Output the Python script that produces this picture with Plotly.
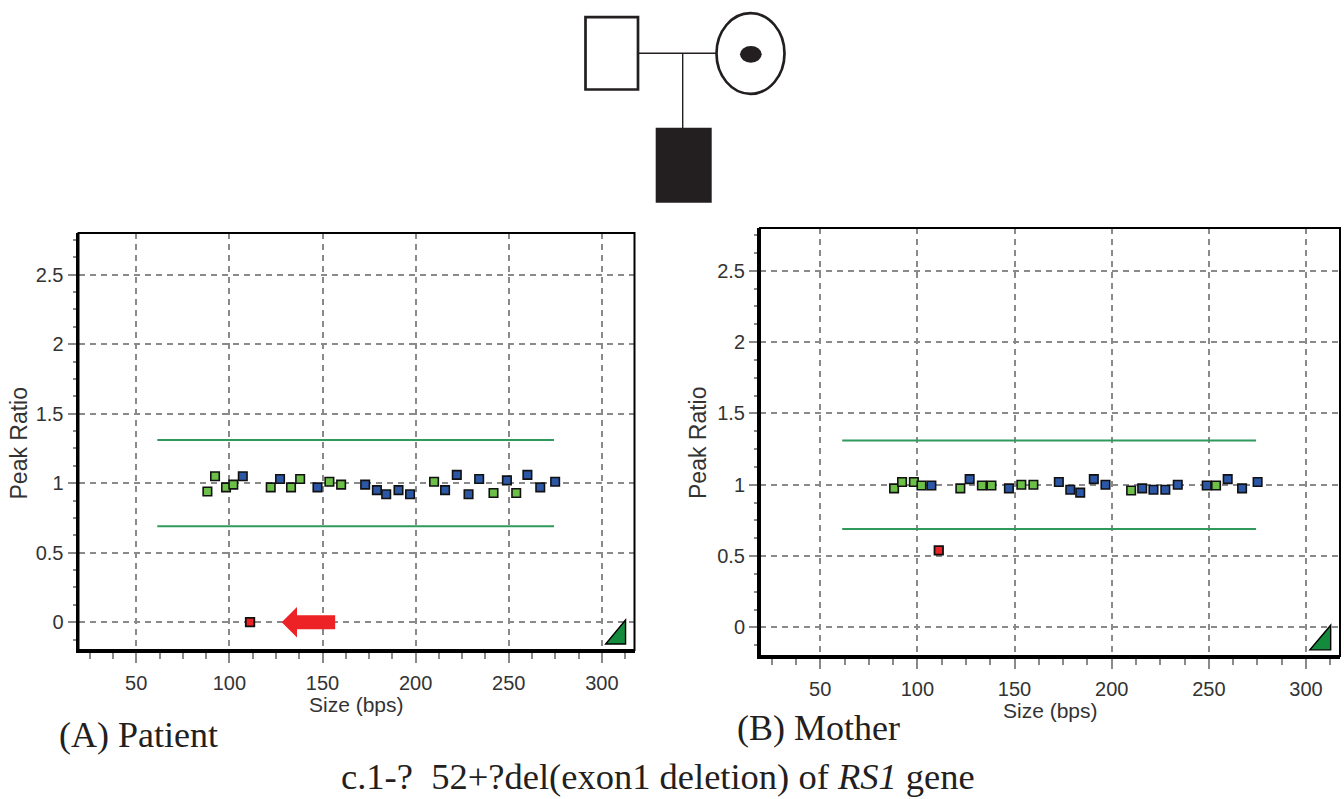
import plotly.graph_objects as go

W, H = 1344, 799

# ---------------- data ----------------
patient_size = [88.2, 92.3, 98.2, 102.1, 107.2, 122.2, 127.2, 133.1, 138.0, 147.3,
                153.7, 160.0, 172.9, 179.2, 184.2, 190.8, 197.0, 209.9, 215.8, 222.1,
                228.4, 234.1, 241.8, 249.0, 254.0, 260.0, 266.9, 274.9]
patient_ratio = [0.94, 1.05, 0.97, 0.99, 1.05, 0.97, 1.03, 0.97, 1.03, 0.97,
                 1.01, 0.99, 0.99, 0.95, 0.92, 0.95, 0.92, 1.01, 0.95, 1.06,
                 0.92, 1.03, 0.93, 1.02, 0.93, 1.06, 0.97, 1.01]
patient_probe = ['ref', 'ref', 'ref', 'ref', 'test', 'ref', 'test', 'ref', 'ref', 'test',
                 'ref', 'ref', 'test', 'test', 'test', 'test', 'test', 'ref', 'test', 'test',
                 'test', 'test', 'ref', 'test', 'ref', 'test', 'test', 'test']
patient_del_size = [111.1]
patient_del_ratio = [0.0]

mother_size = [88.0, 92.1, 98.2, 102.1, 107.2, 122.1, 126.9, 133.2, 138.1, 147.1,
               153.5, 159.7, 172.8, 178.7, 183.8, 190.8, 196.8, 210.0, 215.7, 221.5,
               227.6, 234.0, 248.9, 253.7, 259.7, 267.1, 275.1]
mother_ratio = [0.975, 1.02, 1.02, 0.995, 0.995, 0.975, 1.04, 0.995, 0.995, 0.975,
                1.0, 1.0, 1.02, 0.965, 0.945, 1.04, 1.0, 0.96, 0.975, 0.965,
                0.965, 1.0, 0.995, 0.995, 1.04, 0.975, 1.02]
mother_probe = ['ref', 'ref', 'ref', 'ref', 'test', 'ref', 'test', 'ref', 'ref', 'test',
                'ref', 'ref', 'test', 'test', 'test', 'test', 'test', 'ref', 'test', 'test',
                'test', 'test', 'test', 'ref', 'test', 'test', 'test']
mother_del_size = [111.0]
mother_del_ratio = [0.54]

threshold_size = [61.3, 274.3]
upper_limit = 1.31
lower_limit = 0.69

x_range = [19, 317.5]
y_range = [-0.2, 2.8]
x_ticks = [50, 100, 150, 200, 250, 300]
y_ticks = [0, 0.5, 1, 1.5, 2, 2.5]

# ---------------- styles ----------------
probe_colors = {'ref': '#6cbf47', 'test': '#2c57a6'}
del_color = '#ec2227'
grid_col = '#8a8a8a'
txt_col = '#333333'
serif = 'Liberation Serif, Times New Roman, serif'
sans = 'Liberation Sans, Arial, sans-serif'

fig = go.Figure()


def add_panel(xr, yr, sizes, ratios, probes, dsize, dratio):
    for lim in (upper_limit, lower_limit):
        fig.add_trace(go.Scatter(x=threshold_size, y=[lim, lim], mode='lines',
                                 line=dict(color='#2f9a5c', width=2),
                                 xaxis=xr, yaxis=yr, hoverinfo='skip'))
    fig.add_trace(go.Scatter(x=sizes, y=ratios, mode='markers',
                             marker=dict(symbol='square', size=8.5,
                                         color=[probe_colors[p] for p in probes],
                                         line=dict(color='#111111', width=1.6)),
                             xaxis=xr, yaxis=yr))
    fig.add_trace(go.Scatter(x=dsize, y=dratio, mode='markers',
                             marker=dict(symbol='square', size=8.5, color=del_color,
                                         line=dict(color='#111111', width=1.8)),
                             xaxis=xr, yaxis=yr))
    # frame
    fig.add_shape(type='rect', xref=xr + ' domain', yref=yr + ' domain',
                  x0=0, x1=1, y0=0, y1=1, line=dict(color='black', width=2),
                  layer='above')
    # small green corner triangle
    fig.add_shape(type='path', xref=xr, yref=yr,
                  path='M 302,-0.157 L 312.7,-0.157 L 312.7,0.016 Z',
                  fillcolor='#138a3c', line=dict(color='black', width=1.4))


add_panel('x', 'y', patient_size, patient_ratio, patient_probe,
          patient_del_size, patient_del_ratio)
add_panel('x2', 'y2', mother_size, mother_ratio, mother_probe,
          mother_del_size, mother_del_ratio)

# red arrow pointing at the deleted probe (patient)
ax0 = patient_del_size[0]
ay0 = patient_del_ratio[0]
tip, base, tail = ax0 + 17.0, ax0 + 25.2, ax0 + 45.7
hh, bh = 0.11, 0.05
fig.add_shape(type='path', xref='x', yref='y',
              path=(f'M {tip},{ay0} L {base},{ay0 + hh} L {base},{ay0 + bh} '
                    f'L {tail},{ay0 + bh} L {tail},{ay0 - bh} L {base},{ay0 - bh} '
                    f'L {base},{ay0 - hh} Z'),
              fillcolor='#ec2227', line=dict(width=0))


def xaxis_cfg(dom, anchor):
    return dict(domain=dom, range=x_range, tickvals=x_ticks, showgrid=True,
                gridcolor=grid_col, griddash='6px,5px', gridwidth=1.5,
                ticks='outside', ticklen=10, tickwidth=1.5, tickcolor=grid_col,
                minor=dict(dtick=12.5, tick0=0, ticks='outside', ticklen=6,
                           tickwidth=1.5, tickcolor=grid_col, showgrid=False),
                showline=True, linewidth=3, linecolor='black', zeroline=False,
                tickfont=dict(family=sans, size=20, color=txt_col),
                ticklabelstandoff=3, anchor=anchor)


def yaxis_cfg(dom, anchor):
    return dict(domain=dom, range=y_range, tickvals=y_ticks, showgrid=True,
                gridcolor=grid_col, griddash='6px,5px', gridwidth=1.5,
                ticks='outside', ticklen=8, tickwidth=1.5, tickcolor=grid_col,
                minor=dict(dtick=0.125, tick0=0, ticks='outside', ticklen=3,
                           tickwidth=1.5, tickcolor=grid_col, showgrid=False),
                showline=True, linewidth=3, linecolor='black', zeroline=False,
                tickfont=dict(family=sans, size=20, color=txt_col), anchor=anchor)


def px_x(v):
    return v / W


def px_y(v):
    return 1 - v / H


xa1 = xaxis_cfg([px_x(78.5), px_x(634.5)], 'y')
ya1 = yaxis_cfg([px_y(650), px_y(233)], 'x')
xa2 = xaxis_cfg([px_x(760), px_x(1340)], 'y2')
ya2 = yaxis_cfg([px_y(656), px_y(228)], 'x2')

# ---------------- pedigree ----------------
ped_line = '#231f20'
shapes_ped = [
    dict(type='line', x0=px_x(638.3), x1=px_x(716), y0=px_y(53.3), y1=px_y(53.3),
         line=dict(color=ped_line, width=1.4)),
    dict(type='line', x0=px_x(682.7), x1=px_x(682.7), y0=px_y(53.3), y1=px_y(128),
         line=dict(color=ped_line, width=1.4)),
    dict(type='rect', x0=px_x(585.5), x1=px_x(638), y0=px_y(89.5), y1=px_y(17.2),
         line=dict(color=ped_line, width=2.7), fillcolor='white'),
    dict(type='circle', x0=px_x(716.5), x1=px_x(784.5), y0=px_y(93.8), y1=px_y(13.2),
         line=dict(color=ped_line, width=2.7), fillcolor='white'),
    dict(type='circle', x0=px_x(740), x1=px_x(761.7), y0=px_y(62.7), y1=px_y(46),
         line=dict(color=ped_line, width=0), fillcolor=ped_line),
    dict(type='rect', x0=px_x(655.7), x1=px_x(711.7), y0=px_y(202.7), y1=px_y(127.7),
         line=dict(color=ped_line, width=0), fillcolor=ped_line),
]
for s in shapes_ped:
    s['xref'] = 'paper'
    s['yref'] = 'paper'
    fig.add_shape(**s)

# ---------------- text ----------------
ann = []


def text(x, y, t, font, size, angle=0, color='#231f20', yanchor='middle'):
    ann.append(dict(x=px_x(x), y=px_y(y), xref='paper', yref='paper', text=t,
                    showarrow=False, xanchor='center', yanchor=yanchor,
                    textangle=angle, font=dict(family=font, size=size, color=color)))


text(356, 704, 'Size (bps)', sans, 21, color=txt_col)
text(1050, 710, 'Size (bps)', sans, 21, color=txt_col)
text(18.5, 443, 'Peak Ratio', sans, 23, angle=-90, color=txt_col)
text(698, 443, 'Peak Ratio', sans, 23, angle=-90, color=txt_col)
text(138, 735, '(A) Patient', serif, 36)
text(818.5, 728, '(B) Mother', serif, 36)
text(658, 799, 'c.1-?\u00a0\u00a052+?del(exon1 deletion) of <i>RS1</i> gene', serif, 36.5,
     yanchor='bottom')

fig.update_layout(width=W, height=H, margin=dict(l=0, r=0, t=0, b=0),
                  paper_bgcolor='white', plot_bgcolor='white', showlegend=False,
                  xaxis=xa1, yaxis=ya1, xaxis2=xa2, yaxis2=ya2, annotations=ann)

fig.write_html('out.html', config={'displayModeBar': False},
               post_script="document.body.style.margin='0';"
                           "document.body.style.overflow='hidden';")
